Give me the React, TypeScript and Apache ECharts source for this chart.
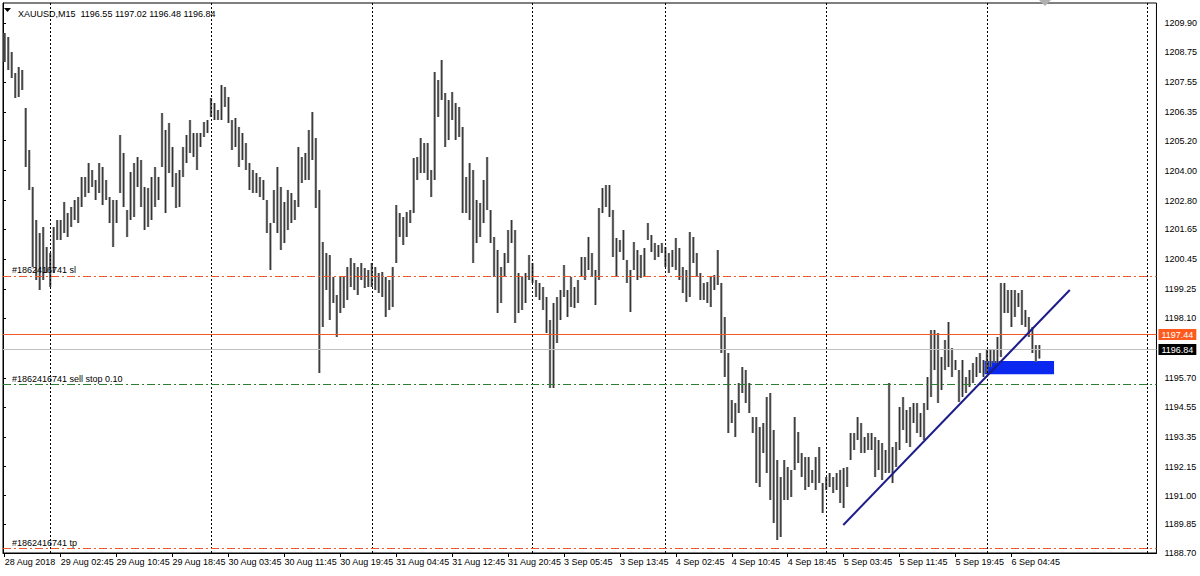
import React, { useEffect, useRef } from "react";
import * as echarts from "echarts";

const FONT = "'Liberation Sans', 'DejaVu Sans', sans-serif";

const symbolTitle = "XAUUSD,M15";
const lastBar = [1196.55, 1197.02, 1196.48, 1196.84]; // open high low close of the current bar

// time labels, one every 16 slots (each slot = 2 M15 bars)
const timeLabels = [
  "28 Aug 2018", "29 Aug 02:45", "29 Aug 10:45", "29 Aug 18:45", "30 Aug 03:45",
  "30 Aug 11:45", "30 Aug 19:45", "31 Aug 04:45", "31 Aug 12:45", "31 Aug 20:45",
  "3 Sep 05:45", "3 Sep 13:45", "4 Sep 02:45", "4 Sep 10:45", "4 Sep 18:45",
  "5 Sep 03:45", "5 Sep 11:45", "5 Sep 19:45", "6 Sep 04:45",
];
const slotsPerLabel = 16;
const totalSlots = 330;

// day separators (slot index of first bar of each day)
const daySeparators = [13, 59, 105, 151, 189, 235, 281, 327];

const priceTicks = [
  1209.9, 1208.75, 1207.55, 1206.35, 1205.2, 1204.0, 1202.8, 1201.65, 1200.45,
  1199.25, 1198.1, 1195.7, 1194.55, 1193.35, 1192.15, 1191.0, 1189.85, 1188.7,
];
const priceMin = 1188.7;
const priceMax = 1210.7;

const highs = [
  1209.50, 1209.34, 1208.74, 1207.90, 1208.14, 1208.02, 1206.50, 1204.82, 1203.34, 1202.02,
  1201.50, 1201.74, 1200.94, 1200.70, 1201.74, 1202.02, 1202.02, 1202.74, 1202.30, 1202.54,
  1202.82, 1202.94, 1203.74, 1203.74, 1204.30, 1204.02, 1203.62, 1204.30, 1204.14, 1203.62,
  1202.94, 1202.82, 1202.82, 1205.42, 1204.70, 1202.42, 1203.94, 1204.30, 1204.54, 1204.42,
  1203.34, 1203.30, 1203.74, 1204.14, 1203.74, 1206.30, 1205.62, 1205.90, 1204.94, 1203.90,
  1204.02, 1204.94, 1205.42, 1206.02, 1205.50, 1205.50, 1205.50, 1205.94, 1206.02, 1206.90,
  1206.70, 1206.42, 1207.42, 1207.34, 1206.94, 1206.02, 1206.10, 1205.74, 1205.50, 1205.10,
  1204.30, 1204.02, 1203.90, 1203.74, 1203.62, 1202.82, 1201.90, 1203.22, 1204.14, 1203.34,
  1202.74, 1203.22, 1203.10, 1202.82, 1204.94, 1204.54, 1204.70, 1205.62, 1206.34, 1205.30,
  1203.22, 1201.14, 1200.70, 1200.62, 1199.74, 1199.02, 1199.74, 1199.74, 1200.14, 1200.50,
  1200.30, 1200.14, 1200.30, 1200.10, 1200.02, 1200.30, 1200.14, 1199.90, 1199.94, 1199.74,
  1199.62, 1200.14, 1202.62, 1202.30, 1202.14, 1202.34, 1202.42, 1204.50, 1204.54, 1205.30,
  1205.10, 1205.10, 1204.02, 1207.94, 1207.62, 1208.42, 1207.10, 1206.82, 1207.14, 1206.70,
  1206.54, 1205.74, 1203.74, 1204.30, 1204.02, 1202.82, 1202.70, 1203.62, 1204.54, 1202.42,
  1201.34, 1200.82, 1200.14, 1200.70, 1201.62, 1202.02, 1201.62, 1199.90, 1199.74, 1199.90,
  1200.62, 1200.30, 1199.62, 1199.50, 1199.34, 1198.94, 1198.02, 1198.70, 1198.94, 1199.22,
  1200.22, 1199.22, 1199.74, 1199.34, 1199.62, 1200.54, 1200.54, 1201.34, 1200.70, 1200.02,
  1202.50, 1203.30, 1203.42, 1203.42, 1202.42, 1201.30, 1201.22, 1201.62, 1200.42, 1200.02,
  1201.14, 1200.82, 1200.62, 1200.90, 1201.90, 1201.42, 1201.10, 1201.02, 1201.10, 1200.94,
  1200.70, 1200.82, 1201.30, 1200.90, 1200.14, 1200.02, 1201.54, 1201.34, 1200.70, 1199.90,
  1199.50, 1199.54, 1199.74, 1199.82, 1200.82, 1199.50, 1198.14, 1196.70, 1194.82, 1194.70,
  1195.50, 1196.14, 1196.02, 1195.50, 1194.14, 1194.14, 1193.74, 1193.90, 1194.94, 1195.10,
  1193.62, 1192.42, 1191.74, 1192.42, 1192.14, 1192.02, 1194.14, 1193.54, 1192.70, 1192.54,
  1192.54, 1192.02, 1192.54, 1192.94, 1191.50, 1191.74, 1191.90, 1191.74, 1191.90, 1192.02,
  1192.10, 1192.14, 1193.50, 1193.50, 1194.14, 1193.90, 1193.34, 1193.50, 1193.50, 1193.34,
  1193.22, 1193.10, 1192.82, 1195.50, 1192.94, 1193.14, 1194.54, 1194.94, 1194.42, 1194.54,
  1194.70, 1194.70, 1194.30, 1194.70, 1195.74, 1197.62, 1197.62, 1197.50, 1196.54, 1197.22,
  1197.94, 1196.90, 1196.42, 1196.02, 1196.42, 1195.74, 1196.02, 1196.30, 1196.54, 1196.70,
  1196.42, 1196.82, 1196.82, 1196.82, 1197.34, 1199.50, 1199.50, 1199.22, 1199.22, 1199.22,
  1199.10, 1199.22, 1198.42, 1198.14, 1197.74, 1197.02, 1197.02,
];

const lows = [
  1208.34, 1208.02, 1207.70, 1206.90, 1206.94, 1207.22, 1204.14, 1203.22, 1200.14, 1199.62,
  1199.22, 1199.62, 1199.90, 1199.34, 1199.90, 1201.22, 1201.22, 1201.50, 1201.34, 1201.74,
  1202.02, 1201.90, 1202.54, 1202.94, 1203.10, 1203.34, 1202.82, 1203.10, 1202.62, 1202.82,
  1201.90, 1200.94, 1201.90, 1203.10, 1202.54, 1201.34, 1202.02, 1202.14, 1203.34, 1202.54,
  1201.62, 1201.74, 1202.02, 1202.54, 1202.82, 1204.14, 1202.30, 1203.90, 1203.34, 1202.50,
  1202.54, 1203.74, 1204.30, 1204.70, 1204.54, 1204.02, 1204.94, 1205.34, 1205.50, 1206.14,
  1206.02, 1206.02, 1206.02, 1206.54, 1205.90, 1204.82, 1204.94, 1204.14, 1204.42, 1204.02,
  1203.22, 1203.10, 1203.10, 1202.94, 1202.82, 1201.50, 1200.02, 1201.90, 1201.50, 1200.82,
  1201.10, 1201.62, 1201.90, 1202.02, 1202.54, 1203.50, 1203.62, 1203.62, 1204.42, 1202.50,
  1195.90, 1197.74, 1199.22, 1198.02, 1198.70, 1197.34, 1198.30, 1198.50, 1198.82, 1199.34,
  1199.22, 1199.02, 1199.62, 1199.30, 1199.34, 1199.34, 1199.22, 1199.10, 1198.94, 1198.14,
  1198.42, 1198.54, 1200.30, 1201.34, 1201.02, 1201.34, 1201.90, 1202.30, 1203.62, 1203.90,
  1203.90, 1203.62, 1202.94, 1203.62, 1206.14, 1206.82, 1204.94, 1205.22, 1206.02, 1205.22,
  1205.34, 1202.30, 1202.30, 1202.02, 1200.30, 1201.10, 1201.34, 1201.90, 1202.42, 1201.10,
  1199.74, 1198.30, 1198.70, 1199.74, 1200.30, 1201.10, 1197.90, 1198.30, 1198.42, 1198.70,
  1199.62, 1199.50, 1198.94, 1198.82, 1198.42, 1197.50, 1195.30, 1195.30, 1197.10, 1198.02,
  1198.94, 1198.14, 1198.54, 1198.50, 1198.70, 1199.74, 1199.62, 1200.02, 1199.74, 1198.62,
  1199.62, 1202.30, 1202.54, 1202.14, 1200.54, 1199.74, 1200.74, 1200.42, 1199.50, 1198.34,
  1200.02, 1199.62, 1199.70, 1199.74, 1201.22, 1200.74, 1200.42, 1200.54, 1200.70, 1200.14,
  1199.90, 1200.14, 1200.02, 1199.62, 1199.10, 1198.74, 1198.94, 1200.30, 1199.74, 1198.82,
  1198.82, 1198.70, 1198.54, 1199.22, 1199.42, 1196.70, 1195.74, 1193.50, 1193.90, 1193.34,
  1194.30, 1195.10, 1194.70, 1194.30, 1193.50, 1191.50, 1191.34, 1192.70, 1191.90, 1190.82,
  1189.90, 1189.22, 1189.34, 1190.82, 1190.82, 1190.94, 1192.02, 1192.30, 1191.74, 1191.22,
  1191.34, 1191.50, 1191.22, 1191.50, 1190.30, 1191.22, 1191.34, 1191.10, 1191.22, 1190.70,
  1190.50, 1191.34, 1192.42, 1192.82, 1193.22, 1192.70, 1192.70, 1192.82, 1192.82, 1191.74,
  1192.02, 1191.62, 1191.90, 1191.90, 1191.50, 1192.14, 1192.82, 1193.62, 1193.10, 1192.94,
  1193.90, 1193.50, 1193.34, 1193.22, 1194.42, 1194.94, 1196.02, 1194.70, 1195.22, 1196.02,
  1196.14, 1195.74, 1196.02, 1194.74, 1194.94, 1195.10, 1195.34, 1195.50, 1195.74, 1195.90,
  1195.74, 1195.90, 1196.14, 1196.30, 1196.30, 1196.54, 1198.30, 1198.30, 1197.74, 1198.14,
  1198.54, 1197.82, 1197.74, 1197.34, 1196.70, 1196.34, 1196.48,
];

const orderTicket = "#1862416741";
const slPrice = 1199.79;
const sellStopPrice = 1195.46;
const sellStopLots = 0.1;
const tpPrice = 1188.88;
const alertPrice = 1197.44;
const bidPrice = lastBar[3];

// trend line [slot, price] and zone rectangle
const trendLine = [
  [240.4, 1189.82],
  [305.2, 1199.22],
];
const zoneBox = [
  [280.7, 1196.38],
  [300.7, 1195.85],
];

export default function App() {
  const ref = useRef<HTMLDivElement>(null);

  useEffect(() => {
    if (!ref.current) return;
    const chart = echarts.init(ref.current, null, { renderer: "svg" });

    const categories: string[] = [];
    for (let i = 0; i < totalSlots; i++) {
      const k = i / slotsPerLabel;
      categories.push(i % slotsPerLabel === 0 && k < timeLabels.length ? timeLabels[k] : "");
    }
    const barData = highs.map((h, i) => [i, h, lows[i]]);
    const labelInterval = (_: number, v: string) => v !== "";

    const dashDot = [8, 3, 2, 3];

    const option: any = {
      animation: false,
      backgroundColor: "#ffffff",
      textStyle: { fontFamily: FONT },
      title: {
        text: `${symbolTitle}  ${lastBar.map((v) => v.toFixed(2)).join(" ")}`,
        left: 13,
        top: 4,
        textStyle: { fontSize: 9, fontWeight: "normal", color: "#000", fontFamily: FONT },
      },
      graphic: [
        { type: "polygon", shape: { points: [[4, 8], [11, 8], [7.5, 12]] }, style: { fill: "#000" } },
        { type: "polygon", shape: { points: [[1039, 0], [1051, 0], [1045, 6]] }, style: { fill: "#b0b0b0" } },
      ],
      grid: {
        left: 3,
        right: 40,
        top: 3,
        bottom: 23,
        show: true,
        borderColor: "#000",
        borderWidth: 1,
      },
      xAxis: [
        {
          type: "category",
          data: categories,
          boundaryGap: true,
          axisLine: { show: true, lineStyle: { color: "#000" } },
          axisTick: { show: true, alignWithLabel: true, interval: labelInterval, length: 4, lineStyle: { color: "#000" } },
          axisLabel: {
            interval: labelInterval,
            align: "left",
            margin: 4,
            fontSize: 9,
            color: "#000",
            fontFamily: FONT,
          },
          splitLine: { show: false },
        },
        { type: "value", min: 0, max: totalSlots, show: false },
      ],
      yAxis: {
        type: "value",
        position: "right",
        min: priceMin,
        max: priceMax,
        axisLine: { show: true, lineStyle: { color: "#000" } },
        axisTick: { show: true, length: 3, customValues: priceTicks, lineStyle: { color: "#000" } },
        axisLabel: {
          customValues: priceTicks,
          formatter: (v: number) => v.toFixed(2),
          fontSize: 9,
          margin: 8,
          color: "#000",
          fontFamily: FONT,
        },
        splitLine: { show: false },
      },
      series: [
        {
          type: "line",
          xAxisIndex: 0,
          data: [],
          z: 1,
          markLine: {
            silent: true,
            symbol: ["none", "none"],
            label: { show: false },
            lineStyle: { color: "#000", type: [2, 2], width: 1 },
            data: daySeparators.map((d) => ({ xAxis: d })),
          },
        },
        {
          type: "custom",
          xAxisIndex: 0,
          z: 2,
          data: barData,
          encode: { x: 0, y: [1, 2] },
          renderItem: (_params: any, api: any) => {
            const i = api.value(0);
            const hi = api.coord([i, api.value(1)]);
            const lo = api.coord([i, api.value(2)]);
            const h = Math.max(1, lo[1] - hi[1]);
            return {
              type: "group",
              children: [
                { type: "rect", shape: { x: hi[0] - 1.2, y: hi[1], width: 2.4, height: h }, style: { fill: "#858585" } },
                { type: "rect", shape: { x: hi[0] - 0.45, y: hi[1], width: 0.9, height: h }, style: { fill: "#2a2a2a" } },
              ],
            };
          },
        },
        {
          type: "line",
          xAxisIndex: 0,
          data: [],
          z: 3,
          markLine: {
            silent: true,
            symbol: ["none", "none"],
            data: [
              {
                yAxis: slPrice,
                lineStyle: { color: "#f0582a", type: dashDot, width: 1 },
                label: { show: true, position: "insideStartTop", distance: [9, 1], formatter: `${orderTicket} sl`, color: "#000", fontSize: 9, fontFamily: FONT },
              },
              {
                yAxis: alertPrice,
                lineStyle: { color: "#f0582a", type: "solid", width: 1 },
                label: {
                  show: true, position: "end", distance: 2, formatter: alertPrice.toFixed(2),
                  backgroundColor: "#ff5a1e", color: "#fff", padding: [1, 3, 1, 3], fontSize: 9, fontFamily: FONT,
                },
              },
              {
                yAxis: bidPrice,
                lineStyle: { color: "#c0c0c0", type: "solid", width: 1 },
                label: {
                  show: true, position: "end", distance: 2, formatter: bidPrice.toFixed(2),
                  backgroundColor: "#000", color: "#fff", padding: [1, 3, 1, 3], fontSize: 9, fontFamily: FONT,
                },
              },
              {
                yAxis: sellStopPrice,
                lineStyle: { color: "#2f7d2f", type: dashDot, width: 1 },
                label: { show: true, position: "insideStartTop", distance: [9, 1], formatter: `${orderTicket} sell stop ${sellStopLots.toFixed(2)}`, color: "#000", fontSize: 9, fontFamily: FONT },
              },
              {
                yAxis: tpPrice,
                lineStyle: { color: "#f0582a", type: dashDot, width: 1 },
                label: { show: true, position: "insideStartTop", distance: [9, 1], formatter: `${orderTicket} tp`, color: "#000", fontSize: 9, fontFamily: FONT },
              },
            ],
          },
        },
        {
          type: "line",
          xAxisIndex: 1,
          z: 5,
          data: trendLine,
          symbol: "none",
          lineStyle: { color: "#1c1c8a", width: 2 },
          markArea: {
            silent: true,
            itemStyle: { color: "#0a28f0", opacity: 1 },
            data: [[{ coord: zoneBox[0] }, { coord: zoneBox[1] }]],
          },
        },
      ],
    };

    chart.setOption(option);
    return () => chart.dispose();
  }, []);

  return (
    <div
      ref={ref}
      style={{ position: "fixed", left: 0, top: 0, width: 1200, height: 576, background: "#fff" }}
    />
  );
}
